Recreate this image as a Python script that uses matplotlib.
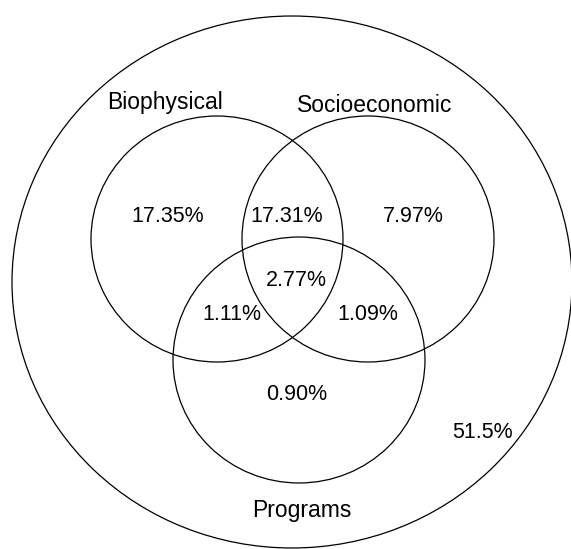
import matplotlib
matplotlib.use("Agg")
from matplotlib import pyplot as plt
from matplotlib.patches import Ellipse

# outer circle and the three sets (pixel-like coordinates, y down)
outer = (292, 282, 280, 266)
set_names = ["Biophysical", "Socioeconomic", "Programs"]
set_centers = [(217, 239), (368, 239), (299, 360)]
set_radius = (126, 123)
name_pos = [(165, 103), (375, 105), (302, 510)]

region_labels = ["17.35%", "17.31%", "7.97%", "2.77%", "1.11%", "1.09%", "0.90%", "51.5%"]
region_pos = [(168, 216), (287, 216), (413, 216), (296, 280),
              (232, 315), (368, 315), (297, 395), (482, 432)]

plt.rcParams['font.family'] = ['Liberation Sans', 'DejaVu Sans']

fig = plt.figure(figsize=(5.71, 5.49), dpi=100)
ax = fig.add_axes([0, 0, 1, 1])
ax.set_xlim(0, 571)
ax.set_ylim(549, 0)
ax.axis('off')

lw = 0.9
ax.add_patch(Ellipse((outer[0], outer[1]), 2 * outer[2], 2 * outer[3],
                     fill=False, lw=lw, ec='black'))
for c in set_centers:
    ax.add_patch(Ellipse(c, 2 * set_radius[0], 2 * set_radius[1],
                         fill=False, lw=lw, ec='black'))

for name, (x, y) in zip(set_names, name_pos):
    ax.text(x, y, name, ha='center', va='center', fontsize=16.5)
for lab, (x, y) in zip(region_labels, region_pos):
    ax.text(x, y, lab, ha='center', va='center', fontsize=15.5)

fig.savefig("out.png", dpi=100)
